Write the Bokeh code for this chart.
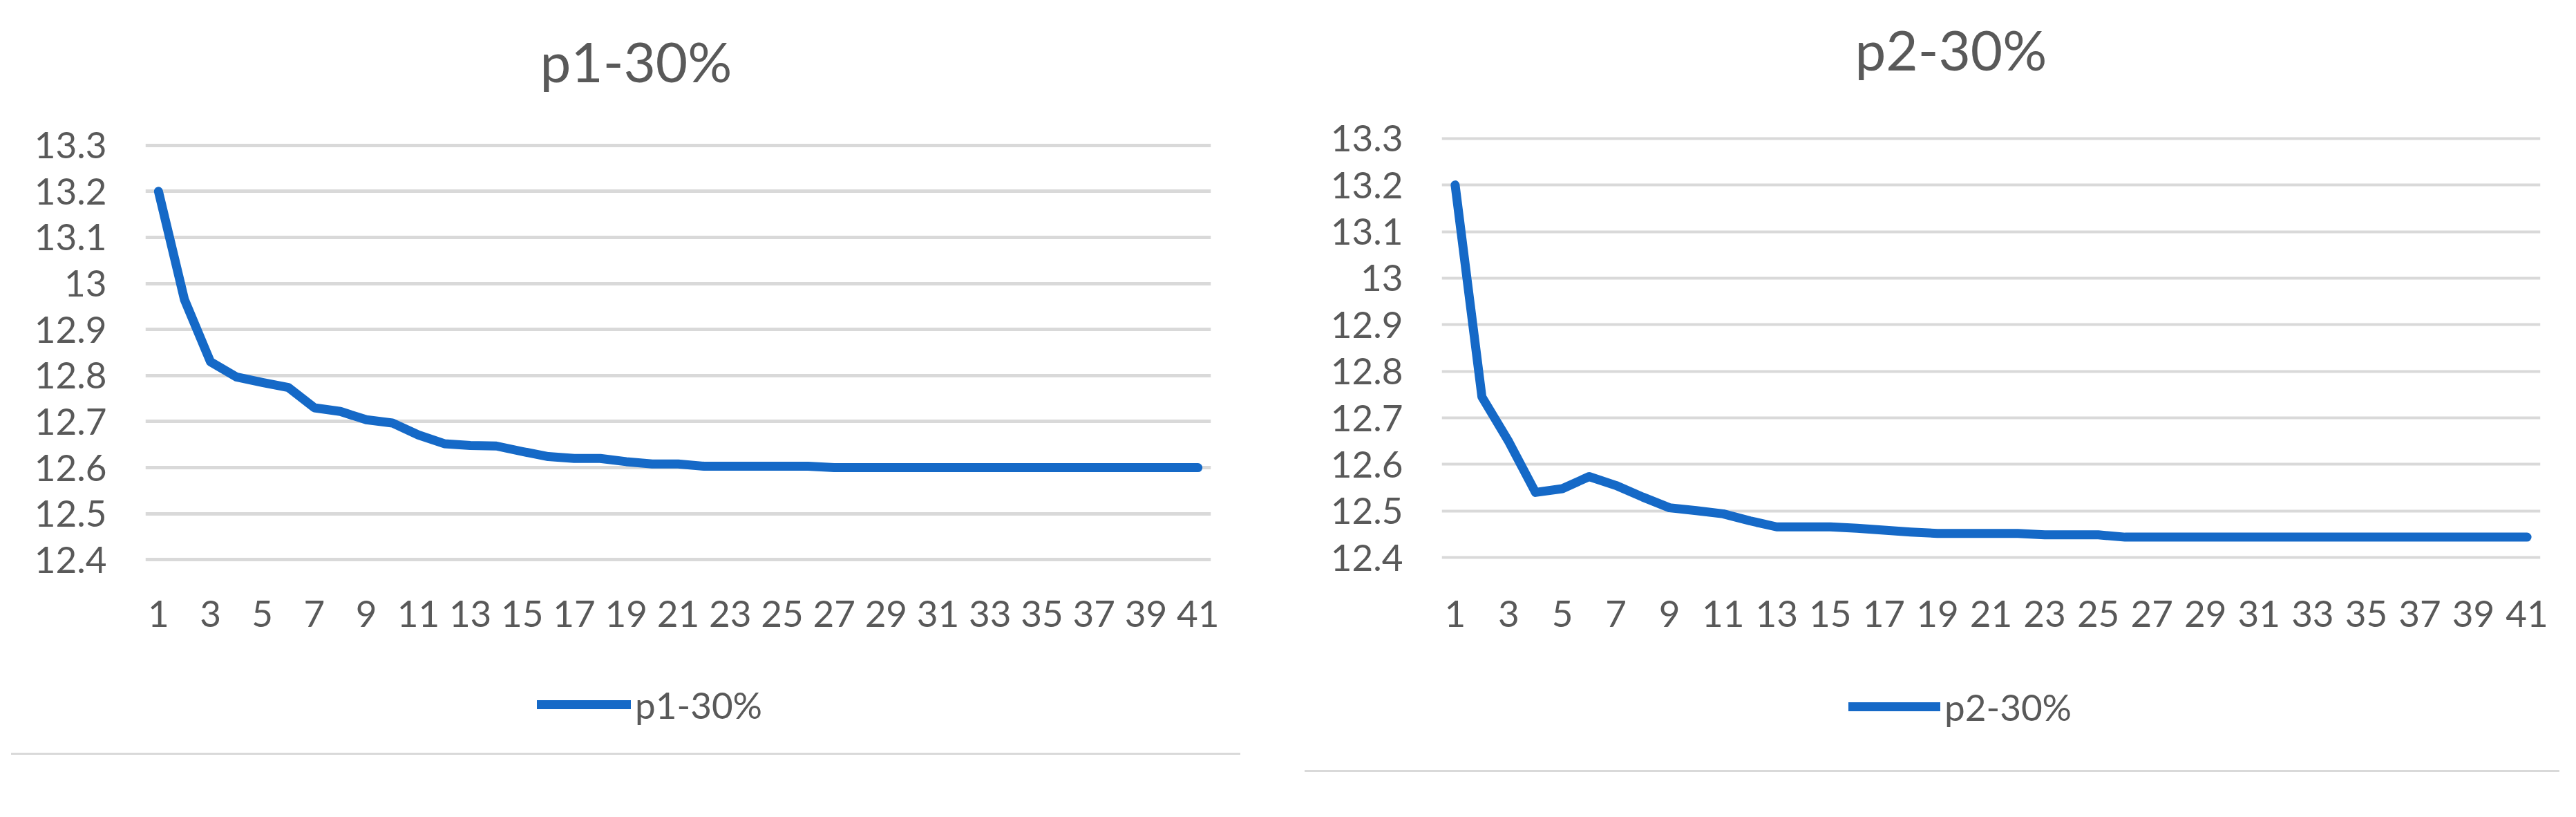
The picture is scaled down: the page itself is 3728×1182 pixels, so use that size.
from bokeh.plotting import figure
from bokeh.layouts import row, column
from bokeh.models import (Range1d, FixedTicker, CustomJSTickFormatter, Legend,
                          LegendItem, ColumnDataSource, Title, Div)
from bokeh.embed import file_html
from bokeh.resources import INLINE

# ---------------- data ----------------
ITERATIONS = [1, 2, 3, 4, 5, 6, 7, 8, 9, 10, 11, 12, 13, 14, 15, 16, 17, 18, 19, 20, 21,
              22, 23, 24, 25, 26, 27, 28, 29, 30, 31, 32, 33, 34, 35, 36, 37, 38, 39, 40, 41]

P1_30 = [13.2, 12.965, 12.83, 12.797, 12.785, 12.774, 12.73, 12.722, 12.704, 12.697,
         12.671, 12.652, 12.648, 12.647, 12.635, 12.624, 12.62, 12.62, 12.613, 12.608,
         12.608, 12.603, 12.603, 12.603, 12.603, 12.603, 12.6, 12.6, 12.6, 12.6,
         12.6, 12.6, 12.6, 12.6, 12.6, 12.6, 12.6, 12.6, 12.6, 12.6, 12.6]

P2_30 = [13.2, 12.745, 12.649, 12.54, 12.548, 12.574, 12.555, 12.53, 12.507, 12.501,
         12.494, 12.479, 12.466, 12.466, 12.466, 12.463, 12.459, 12.455, 12.452, 12.452,
         12.452, 12.452, 12.449, 12.449, 12.449, 12.444, 12.444, 12.444, 12.444, 12.444,
         12.444, 12.444, 12.444, 12.444, 12.444, 12.444, 12.444, 12.444, 12.444, 12.444, 12.444]

X_TICKS = [1, 3, 5, 7, 9, 11, 13, 15, 17, 19, 21, 23, 25, 27, 29, 31, 33, 35, 37, 39, 41]
Y_TICKS = [12.4, 12.5, 12.6, 12.7, 12.8, 12.9, 13.0, 13.1, 13.2, 13.3]
Y_TICK_LABELS = ["12.4", "12.5", "12.6", "12.7", "12.8", "12.9", "13", "13.1", "13.2", "13.3"]

TITLES = ["p1-30%", "p2-30%"]

# ---------------- style ----------------
FONT = "Lato"
TEXT_COLOR = "#595959"
LINE_COLOR = "#1569C7"
GRID_COLOR = "#d9d9d9"
LINE_W = 13


def make_chart(name, values, width, b_left, b_right, b_top, frame_h, b_bottom,
               grid_w, x_standoff, title_offset, title_gap):
    frame_w = width - b_left - b_right
    p = figure(width=width, height=b_top + frame_h + b_bottom,
               frame_width=frame_w, frame_height=frame_h,
               output_backend="svg", toolbar_location=None,
               x_range=Range1d(0.5, 41.5), y_range=Range1d(12.39, 13.31),
               min_border_left=b_left, min_border_right=b_right,
               min_border_top=b_top, min_border_bottom=b_bottom,
               title=None)
    p.outline_line_color = None
    p.background_fill_color = "white"
    p.border_fill_color = "white"

    src = ColumnDataSource(dict(x=ITERATIONS, y=values))
    p.line("x", "y", source=src, line_color=LINE_COLOR, line_width=LINE_W,
           line_join="round", line_cap="round")

    # axes
    p.xaxis.ticker = FixedTicker(ticks=X_TICKS)
    p.yaxis.ticker = FixedTicker(ticks=Y_TICKS)
    p.yaxis.formatter = CustomJSTickFormatter(
        args=dict(tvals=Y_TICKS, tlabels=Y_TICK_LABELS),
        code="""
        let best = 0;
        for (let i = 0; i < tvals.length; i++) {
          if (Math.abs(tvals[i] - tick) < Math.abs(tvals[best] - tick)) best = i;
        }
        return tlabels[best];
        """)
    for ax in (p.xaxis, p.yaxis):
        ax.axis_line_color = None
        ax.major_tick_line_color = None
        ax.minor_tick_line_color = None
        ax.major_tick_out = 0
        ax.major_tick_in = 0
        ax.major_label_text_font = FONT
        ax.major_label_text_font_size = "53px"
        ax.major_label_text_color = TEXT_COLOR
    p.yaxis.major_label_standoff = 56
    p.xaxis.major_label_standoff = x_standoff

    p.xgrid.grid_line_color = None
    p.ygrid.grid_line_color = GRID_COLOR
    p.ygrid.grid_line_width = grid_w

    # gap between frame and title (blank spacer title, white on white)
    p.add_layout(Title(text=" ", text_font_size="2px", standoff=title_gap,
                       text_color="white"), "above")
    # title
    p.add_layout(Title(text=name, align="left", offset=title_offset,
                       standoff=0, text_font=FONT,
                       text_font_size="80px", text_font_style="normal",
                       text_color=TEXT_COLOR), "above")
    return p


def make_legend_strip(name, values, width, height, loc, glyph_w):
    # a strip under the chart that holds the chart's legend
    q = figure(width=width, height=height, output_backend="svg", toolbar_location=None,
               x_range=Range1d(1000, 1001), y_range=Range1d(1000, 1001),
               x_axis_type=None, y_axis_type=None, min_border=0, title=None)
    q.outline_line_color = None
    q.background_fill_color = "white"
    q.border_fill_color = "white"
    src = ColumnDataSource(dict(x=ITERATIONS, y=values))
    r = q.line("x", "y", source=src, line_color=LINE_COLOR, line_width=LINE_W,
               line_join="round", line_cap="round")
    leg = Legend(items=[LegendItem(label=name, renderers=[r])],
                 location=loc, orientation="horizontal",
                 label_text_font=FONT, label_text_font_size="53px",
                 label_text_color=TEXT_COLOR, glyph_width=glyph_w, glyph_height=64,
                 label_height=64, label_standoff=6, padding=0,
                 margin=0, spacing=0, border_line_alpha=0,
                 background_fill_alpha=0)
    q.add_layout(leg, "center")
    return q


left = make_chart(TITLES[0], P1_30, 1852, 210, 100, 203, 613, 150, 5,
                  52, 571, 64)
right = make_chart(TITLES[1], P2_30, 1860, 234, 36, 193, 620, 150, 4,
                   55, 598, 71)

left_leg = make_legend_strip(TITLES[0], P1_30, 1852, 123, (567, 38), 136)
right_leg = make_legend_strip(TITLES[1], P2_30, 1860, 151, (589, 60), 133)

# thin separators under each chart area
sep_left = Div(text="", width=1779, height=3, margin=(0, 0, 0, 16),
               styles={"background-color": GRID_COLOR})
sep_right = Div(text="", width=1816, height=3, margin=(0, 0, 0, 36),
                styles={"background-color": GRID_COLOR})

layout = row(column(left, left_leg, sep_left), column(right, right_leg, sep_right))
open("out.html", "w").write(file_html(layout, INLINE))
